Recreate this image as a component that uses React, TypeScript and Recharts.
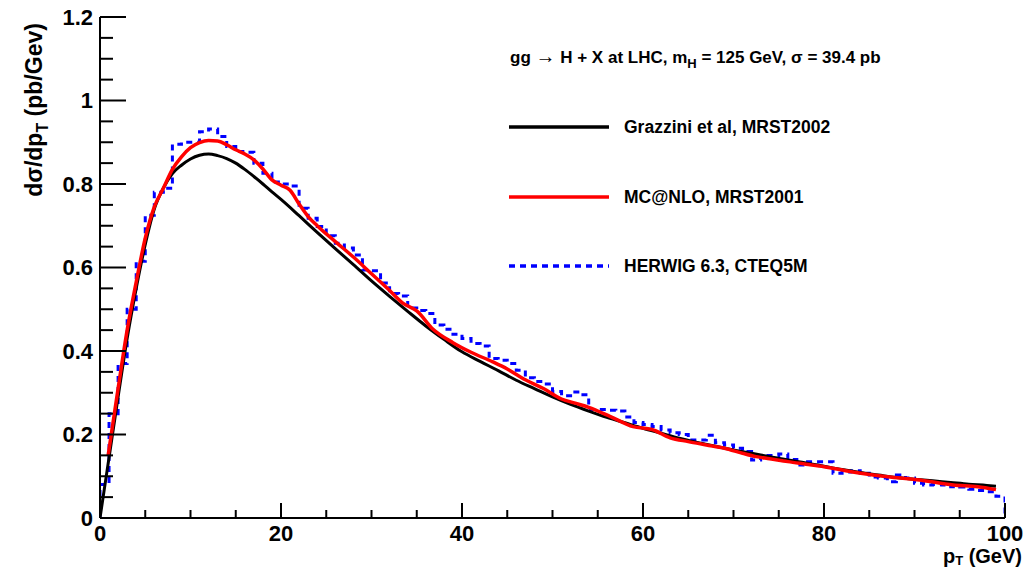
import { ComposedChart, Line, XAxis, YAxis } from 'recharts'

const FONT = '"Liberation Sans", Arial, Helvetica, sans-serif'

// Grazzini et al, MRST2002 (smooth resummed curve)
const grazziniPt = [0, 1, 2, 3, 4, 5, 6, 7, 8, 9, 10, 11, 12, 13, 14, 15, 16, 17, 18, 19, 20, 22, 24, 26, 28, 30, 32, 34, 36, 38, 40, 42, 44, 46, 48, 50, 52, 54, 56, 58, 60, 62, 64, 66, 68, 70, 72, 74, 76, 78, 80, 82, 84, 86, 88, 90, 92, 94, 96, 98, 99]
const grazziniVal = [0, 0.145, 0.29, 0.43, 0.55, 0.655, 0.74, 0.79, 0.825, 0.845, 0.86, 0.869, 0.872, 0.868, 0.861, 0.85, 0.835, 0.818, 0.8, 0.781, 0.763, 0.724, 0.684, 0.645, 0.607, 0.568, 0.531, 0.495, 0.46, 0.428, 0.398, 0.375, 0.353, 0.33, 0.31, 0.29, 0.272, 0.256, 0.241, 0.228, 0.215, 0.203, 0.191, 0.181, 0.172, 0.163, 0.155, 0.147, 0.139, 0.132, 0.124, 0.116, 0.109, 0.103, 0.097, 0.093, 0.089, 0.085, 0.081, 0.078, 0.076]

// MC@NLO, MRST2001
const mcnloPt = [0.9, 2, 3, 4, 5, 6, 7, 8, 9, 10, 11, 12, 13, 14, 15, 16, 17, 18, 19, 20, 21, 22, 23, 24, 26, 28, 30, 32, 33.5, 35, 36.8, 39, 41, 43.4, 45, 47, 49, 51, 52.5, 54, 56.4, 58.9, 61, 63, 65, 67, 69, 71, 72.5, 74, 76, 78, 80, 83, 87, 90.6, 94.3, 97, 99]
const mcnloVal = [0.15, 0.31, 0.45, 0.565, 0.67, 0.745, 0.79, 0.835, 0.865, 0.887, 0.899, 0.904, 0.903, 0.894, 0.882, 0.872, 0.858, 0.836, 0.81, 0.797, 0.785, 0.752, 0.722, 0.7, 0.662, 0.625, 0.585, 0.545, 0.514, 0.496, 0.452, 0.42, 0.397, 0.374, 0.357, 0.331, 0.31, 0.285, 0.275, 0.265, 0.243, 0.219, 0.212, 0.192, 0.183, 0.175, 0.167, 0.155, 0.147, 0.142, 0.135, 0.129, 0.123, 0.111, 0.099, 0.091, 0.079, 0.075, 0.068]

// HERWIG 6.3, CTEQ5M histogram, 1 GeV bins from 0 to 100
const herwigVal = [
  0.08, 0.25, 0.37, 0.5, 0.615, 0.725, 0.78, 0.79, 0.895, 0.9,
  0.9, 0.925, 0.932, 0.914, 0.89, 0.878, 0.876, 0.85, 0.826, 0.805,
  0.8, 0.795, 0.742, 0.718, 0.698, 0.676, 0.658, 0.647, 0.63, 0.594,
  0.592, 0.563, 0.538, 0.532, 0.503, 0.497, 0.49, 0.462, 0.452, 0.44,
  0.43, 0.418, 0.412, 0.382, 0.378, 0.37, 0.354, 0.336, 0.327, 0.321,
  0.303, 0.293, 0.302, 0.295, 0.26, 0.26, 0.258, 0.256, 0.242, 0.229,
  0.224, 0.219, 0.211, 0.204, 0.2, 0.187, 0.187, 0.198, 0.18, 0.175,
  0.167, 0.159, 0.139, 0.15, 0.15, 0.153, 0.14, 0.127, 0.135, 0.135,
  0.135, 0.107, 0.11, 0.113, 0.107, 0.098, 0.096, 0.087, 0.103, 0.096,
  0.083, 0.079, 0.08, 0.079, 0.075, 0.074, 0.069, 0.066, 0.063, 0.052,
]

const xTicks = Array.from({ length: 21 }, (_, i) => i * 5)
const yTicks = Array.from({ length: 25 }, (_, i) => Math.round(i * 5) / 100)

const grazzini = grazziniPt.map((x, i) => ({ x, y: grazziniVal[i] }))
const mcnlo = mcnloPt.map((x, i) => ({ x, y: mcnloVal[i] }))
const herwig = [
  { x: 0, y: 0 },
  ...herwigVal.map((y, i) => ({ x: i, y })),
  { x: 100, y: herwigVal[herwigVal.length - 1] },
  { x: 100, y: 0 },
]

const labelStyle = { fontFamily: FONT, fontWeight: 700, fontSize: 22, fill: '#000' }

function YTick(props: any) {
  const { x, y, payload } = props
  const v = payload.value
  const major = Math.abs(v * 5 - Math.round(v * 5)) < 1e-6
  return <g>
    <line x1={x} x2={x + (major ? 26 : 13)} y1={y} y2={y} stroke="#000" strokeWidth={2} />
    {major && <text x={x - 7} y={y} dy="0.36em" textAnchor="end" style={labelStyle}>{String(Math.round(v * 10) / 10)}</text>}
  </g>
}

function XTick(props: any) {
  const { x, y, payload } = props
  const v = payload.value
  const major = v % 20 === 0
  return <g>
    <line x1={x} x2={x} y1={y} y2={y - (major ? 15 : 8)} stroke="#000" strokeWidth={2} />
    {major && <text x={x} y={y + 23} textAnchor="middle" style={labelStyle}>{v}</text>}
  </g>
}

const legend = [
  { name: 'Grazzini et al, MRST2002', color: '#000', dash: undefined, y: 127 },
  { name: 'MC@NLO, MRST2001', color: '#ff0000', dash: undefined, y: 197 },
  { name: 'HERWIG 6.3, CTEQ5M', color: '#0000ff', dash: '6 5', y: 266 },
]

export default function App() {
  return <div style={{ position: 'absolute', left: 0, top: 0, width: 1025, height: 569, background: '#fff' }}>
    <ComposedChart width={1025} height={569} margin={{ top: 17, right: 20, bottom: 21, left: 0 }}>
      <XAxis type="number" dataKey="x" domain={[0, 100]} ticks={xTicks} interval={0} height={30} tickSize={0} tickMargin={0} tickLine={false} tick={<XTick />} axisLine={{ stroke: '#000', strokeWidth: 2 }} allowDataOverflow />
      <YAxis type="number" dataKey="y" domain={[0, 1.2]} ticks={yTicks} interval={0} width={100} tickSize={0} tickMargin={0} tickLine={false} tick={<YTick />} axisLine={{ stroke: '#000', strokeWidth: 2 }} allowDataOverflow />
      <Line data={herwig} dataKey="y" type="stepAfter" stroke="#0000ff" strokeWidth={3} strokeDasharray="6 5" dot={false} isAnimationActive={false} />
      <Line data={grazzini} dataKey="y" type="monotone" stroke="#000" strokeWidth={3} dot={false} isAnimationActive={false} />
      <Line data={mcnlo} dataKey="y" type="monotone" stroke="#ff0000" strokeWidth={3.5} dot={false} isAnimationActive={false} />
    </ComposedChart>
    <svg width={1025} height={569} style={{ position: 'absolute', left: 0, top: 0, pointerEvents: 'none' }}>
      <text x={510} y={63} style={{ fontFamily: FONT, fontWeight: 700, fontSize: 17 }}>
        gg <tspan fontSize={20} fontWeight={400}>→</tspan> H + X at LHC, m<tspan dy={5} fontSize={13}>H</tspan><tspan dy={-5}> = 125 GeV, σ = 39.4 pb</tspan>
      </text>
      {legend.map(item => <g key={item.name}>
        <line x1={509} x2={609} y1={item.y} y2={item.y} stroke={item.color} strokeWidth={3.5} strokeDasharray={item.dash} />
        <text x={624} y={item.y} dy="0.36em" style={{ fontFamily: FONT, fontWeight: 700, fontSize: 17.5 }}>{item.name}</text>
      </g>)}
      <text transform="translate(42,110) rotate(-90)" textAnchor="middle" style={{ fontFamily: FONT, fontWeight: 700, fontSize: 23 }}>
        dσ/dp<tspan dy={6} fontSize={16}>T</tspan><tspan dy={-6}> (pb/Gev)</tspan>
      </text>
      <text x={1022} y={563} textAnchor="end" style={{ fontFamily: FONT, fontWeight: 700, fontSize: 20 }}>
        p<tspan dy={2} fontSize={13}>T</tspan><tspan dy={-2}> (GeV)</tspan>
      </text>
    </svg>
  </div>
}
